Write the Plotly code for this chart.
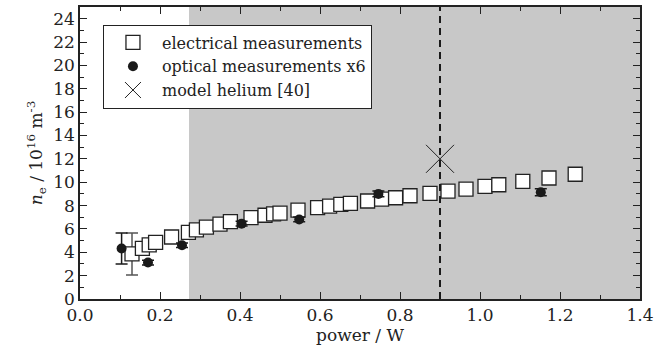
import plotly.graph_objects as go

# electrical measurements (power W, n_e 1e16 m^-3)
elec_x = [0.13, 0.156, 0.173, 0.189, 0.229, 0.271, 0.291, 0.316, 0.35, 0.376,
          0.4275, 0.4625, 0.484, 0.50, 0.545, 0.594, 0.624, 0.652, 0.676, 0.719,
          0.754, 0.789, 0.825, 0.875, 0.92, 0.965, 1.0125, 1.047, 1.107, 1.1725, 1.238]
elec_y = [3.86, 4.33, 4.63, 4.84, 5.31, 5.71, 5.92, 6.15, 6.41, 6.63,
          6.96, 7.17, 7.28, 7.35, 7.61, 7.82, 7.96, 8.11, 8.19, 8.39,
          8.55, 8.67, 8.84, 9.04, 9.23, 9.41, 9.64, 9.78, 10.07, 10.36, 10.68]
elec_err_x = [0.13]
elec_err_y = [3.86]
elec_err = [1.8]

# optical measurements x6
opt_x = [0.104, 0.17, 0.255, 0.404, 0.548, 0.746, 1.152]
opt_y = [4.32, 3.12, 4.6, 6.45, 6.81, 9.0, 9.14]
opt_err = [1.33, 0.2, 0.2, 0.2, 0.2, 0.25, 0.3]

# model helium [40]
model_x = [0.9]
model_y = [12.0]

shade_x0 = 0.2725
vline_x = 0.9
x_range = [0, 1.4]
y_range = [0, 25]
x_ticks = [0.0, 0.2, 0.4, 0.6, 0.8, 1.0, 1.2, 1.4]
x_ticklabels = ["0.0", "0.2", "0.4", "0.6", "0.8", "1.0", "1.2", "1.4"]
y_ticks = list(range(0, 25, 2))

FONT = "DejaVu Serif"

fig = go.Figure()

fig.add_trace(go.Scatter(
    x=elec_err_x, y=elec_err_y, mode="markers", showlegend=False,
    marker=dict(size=1, color="rgba(0,0,0,0)"),
    error_y=dict(type="data", array=elec_err, color="#555", thickness=1.5, width=6),
    hoverinfo="skip"))

fig.add_trace(go.Scatter(
    x=elec_x, y=elec_y, mode="markers", name="electrical measurements",
    marker=dict(symbol="square", size=14, color="white",
                line=dict(color="#222", width=1.3))))

fig.add_trace(go.Scatter(
    x=opt_x, y=opt_y, mode="markers", name="optical measurements x6",
    marker=dict(symbol="circle", size=10, color="#1a1a1a"),
    error_y=dict(type="data", array=opt_err, color="#1a1a1a", thickness=1.5, width=6)))

fig.add_trace(go.Scatter(
    x=model_x, y=model_y, mode="markers", name="model helium [40]",
    marker=dict(symbol="x-thin-open", size=28, color="#222",
                line=dict(color="#222", width=1))))

fig.add_shape(type="rect", xref="x", yref="y", x0=shade_x0, x1=x_range[1],
              y0=y_range[0], y1=y_range[1], fillcolor="#c8c8c8",
              line=dict(width=0), layer="below")
fig.add_shape(type="line", xref="x", yref="y", x0=vline_x, x1=vline_x,
              y0=y_range[0], y1=y_range[1],
              line=dict(color="#1a1a1a", width=2, dash="7px,5px"))

axis_common = dict(showline=True, linecolor="#222", linewidth=1.5, mirror="ticks",
                   ticks="inside", ticklen=7, tickwidth=1.2, tickcolor="#222",
                   showgrid=False, zeroline=False,
                   tickfont=dict(family=FONT, size=17, color="#222"))

fig.update_xaxes(range=x_range, tickvals=x_ticks, ticktext=x_ticklabels,
                 minor=dict(dtick=0.1, ticks="inside", ticklen=4, tickcolor="#222", showgrid=False),
                 title=dict(text="power / W", font=dict(family=FONT, size=17, color="#222"), standoff=1),
                 **axis_common)
fig.update_yaxes(range=y_range, tickvals=y_ticks,
                 minor=dict(dtick=1, ticks="inside", ticklen=4, tickcolor="#222", showgrid=False),
                 title=dict(text="<i>n</i><sub>e</sub> / 10<sup>16</sup> m<sup>-3</sup>",
                            font=dict(family=FONT, size=17, color="#222"), standoff=6),
                 **axis_common)

fig.update_layout(
    width=672, height=358,
    margin=dict(l=80, r=32, t=5, b=59),
    paper_bgcolor="white", plot_bgcolor="white",
    font=dict(family=FONT, size=17, color="#222"),
    legend=dict(x=0.041, y=0.94, xanchor="left", yanchor="top",
                bgcolor="white", bordercolor="#222", borderwidth=1,
                font=dict(family=FONT, size=16, color="#222"),
                itemwidth=48, tracegroupgap=0),
)

fig.write_html("out.html")
